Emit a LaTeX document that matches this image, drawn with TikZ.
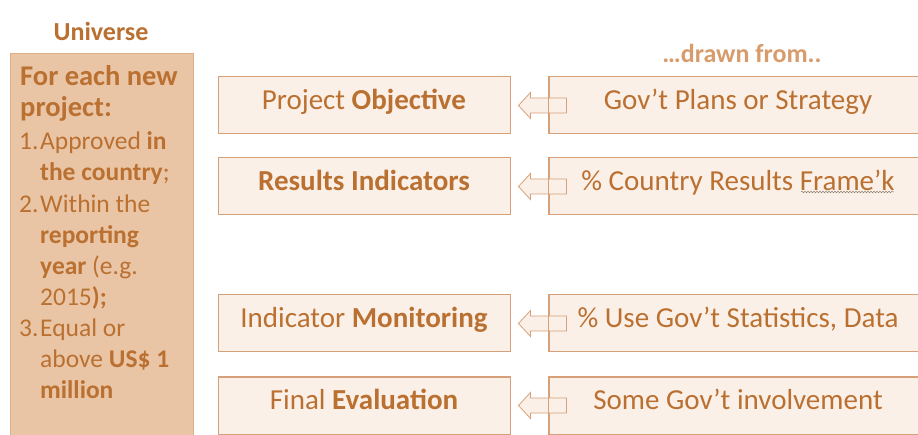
\documentclass[tikz,border=0pt]{standalone}
\usepackage{fontspec}
\setmainfont{Carlito}
\usetikzlibrary{calc,decorations.pathmorphing}
\definecolor{txt}{RGB}{186,112,48}
\definecolor{lite}{RGB}{216,156,108}
\definecolor{bfill}{RGB}{251,240,231}
\definecolor{bline}{RGB}{214,160,120}
\definecolor{lfill}{RGB}{233,197,165}
\definecolor{lline}{RGB}{222,176,138}
\begin{document}
\begin{tikzpicture}[x=1pt,y=-1pt,
  midbox/.style={draw=bline,fill=bfill,line width=1pt,minimum width=292pt,minimum height=57pt,inner sep=0pt,text height=20pt,text depth=12.5pt,text=txt,font=\fontsize{29}{33}\selectfont},
  rbox/.style={midbox,minimum width=378pt},
  ltxt/.style={anchor=base west,inner sep=0pt,text=txt,font=\fontsize{25.5}{30}\selectfont},
  lhead/.style={ltxt,font=\fontsize{28.5}{32}\selectfont\bfseries},
  title/.style={inner sep=0pt,font=\fontsize{26}{30}\selectfont\bfseries},
  blockarrow/.style={draw=bline,fill=bfill,line width=0.8pt,line join=miter}]
\path[use as bounding box,clip] (0,0) rectangle (918,435);
\fill[white] (0,0) rectangle (918,435);

% left column
\node[draw=lline,fill=lfill,line width=1pt,minimum width=183pt,minimum height=420pt,anchor=north west,inner sep=0pt] (L) at (10,53) {};
\node[title,text=txt] (uni) at (101,31) {Universe};
\node[lhead] (l1) at (20,86) {For each new};
\node[lhead] (l2) at (20,117) {project:};
\node[ltxt] (l3) at (19,150) {\makebox[21pt][l]{1.}Approved \textbf{in}};
\node[ltxt] (l4) at (40,181) {\textbf{the country};};
\node[ltxt] (l5) at (19,213) {\makebox[21pt][l]{2.}Within the};
\node[ltxt] (l6) at (40,244) {\textbf{reporting}};
\node[ltxt] (l7) at (40,275) {\textbf{year} (e.g.};
\node[ltxt] (l8) at (40,306) {2015\textbf{);}};
\node[ltxt] (l9) at (19,337) {\makebox[21pt][l]{3.}Equal or};
\node[ltxt] (l10) at (40,368) {above \textbf{US\$ 1}};
\node[ltxt] (l11) at (40,399) {\textbf{million}};

% header right
\node[title,text=lite] (drawn) at (742,53) {…drawn from..};

% middle boxes
\node[midbox] (m1) at (364,105.5) {Project \textbf{Objective}};
\node[midbox] (m2) at (364,186.5) {\textbf{Results Indicators}};
\node[midbox] (m3) at (364,323.5) {Indicator \textbf{Monitoring}};
\node[midbox] (m4) at (364,405.5) {Final \textbf{Evaluation}};

% right boxes
\node[rbox] (r1) at (738,105.5) {Gov’t Plans or Strategy};
\node[rbox] (r2) at (738,186.5) {\% Country Results Frame’k};
\node[rbox] (r3) at (738,323.5) {\% Use Gov’t Statistics, Data};
\node[rbox] (r4) at (738,405.5) {Some Gov’t involvement};

% squiggly underline
\draw[gray!70!brown,line width=0.5pt,decorate,decoration={snake,amplitude=0.8pt,segment length=3pt}] (801,192) -- (894,192);

% block arrows
\foreach \m/\r in {m1/r1,m2/r2,m3/r3,m4/r4}{
  \draw[blockarrow] ($(\r.west)+(18,-7.5)$) -- ($(\m.east)+(20,-7.5)$) -- ($(\m.east)+(20,-13)$) -- ($(\m.east)+(8,0)$) -- ($(\m.east)+(20,13)$) -- ($(\m.east)+(20,7.5)$) -- ($(\r.west)+(18,7.5)$) -- cycle;
  \draw[bline,line width=1pt] (\r.north west) -- (\r.south west);
}
\end{tikzpicture}
\end{document}
